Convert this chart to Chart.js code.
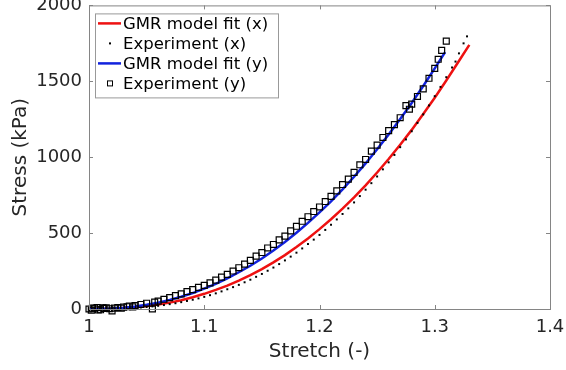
<!DOCTYPE html>
<html>
<head>
<meta charset="utf-8">
<script src="https://cdn.jsdelivr.net/npm/chart.js@4"></script>
<style>
  html, body { margin: 0; padding: 0; background: #fff; }
  #wrap { width: 566px; height: 370px; }
</style>
</head>
<body>
<div id="wrap"><canvas id="stressChart" width="566" height="370"></canvas></div>
<script>
// GMR model fit vs experiment, stretch in x and y

const xTicks = [1, 1.1, 1.2, 1.3, 1.4];
const yTicks = [0, 500, 1000, 1500, 2000];

const fitStretchX = [1.00, 1.01, 1.02, 1.03, 1.04, 1.05, 1.06, 1.07, 1.08, 1.09, 1.10, 1.11, 1.12, 1.13, 1.14, 1.15, 1.16,
    1.17, 1.18, 1.19, 1.20, 1.21, 1.22, 1.23, 1.24, 1.25, 1.26, 1.27, 1.28, 1.29, 1.30, 1.31, 1.32, 1.33];
const fitStressX = [0, 0.5, 2, 6, 11, 19, 29, 42, 58, 77, 100, 126, 154, 187, 223, 263, 307,
    355, 408, 465, 526, 591, 661, 736, 815, 899, 988, 1082, 1180, 1284, 1392, 1505, 1622, 1740];

const fitStretchY = [1.00, 1.01, 1.02, 1.03, 1.04, 1.05, 1.06, 1.07, 1.08, 1.09, 1.10, 1.11, 1.12, 1.13, 1.14, 1.15, 1.16,
    1.17, 1.18, 1.19, 1.20, 1.21, 1.22, 1.23, 1.24, 1.25, 1.26, 1.27, 1.28, 1.29, 1.30, 1.309];
const fitStressY = [0, 1, 4, 9, 17, 28, 42, 60, 81, 105, 134, 166, 202, 242, 285, 333, 385,
    442, 502, 567, 637, 709, 788, 871, 959, 1052, 1150, 1252, 1357, 1469, 1585, 1692];

const expStretchX = [1.000, 1.002, 1.003, 1.005, 1.006, 1.008, 1.010, 1.011, 1.013, 1.015, 1.016, 1.018, 1.020, 1.022,
    1.023, 1.025, 1.028, 1.030, 1.033, 1.035, 1.038,
    1.040, 1.045, 1.050, 1.055, 1.060, 1.065, 1.070, 1.075, 1.080, 1.085, 1.090, 1.095, 1.100, 1.105, 1.110, 1.115,
    1.120, 1.125, 1.130, 1.135, 1.140, 1.145, 1.150, 1.155, 1.160, 1.165, 1.170, 1.175, 1.180, 1.185, 1.190, 1.195,
    1.200, 1.205, 1.210, 1.215, 1.220, 1.225, 1.230, 1.235, 1.240, 1.245, 1.250, 1.255, 1.260, 1.265, 1.270, 1.275,
    1.280, 1.285, 1.290, 1.295, 1.300, 1.305, 1.310, 1.315, 1.318, 1.321, 1.325, 1.328];
const expStressX = [0, 8, -5, 5, -10, -3, 2, 10, -8, 4, -6, 0, 3, 9,
    -4, 2, 6, 3, 8, 5, 4,
    7, 10, 13, 17, 21, 26, 32, 38, 45, 53, 61, 70, 80, 91, 103, 116,
    130, 144, 159, 176, 193, 212, 231, 252, 273, 296, 320, 345, 371, 399, 428, 457,
    488, 521, 555, 590, 626, 663, 702, 744, 786, 829, 873, 920, 966, 1015, 1066, 1117,
    1171, 1226, 1282, 1341, 1402, 1463, 1527, 1591, 1630, 1684, 1750, 1796];

const expStretchY = [1.000, 1.002, 1.003, 1.005, 1.007, 1.008, 1.010, 1.012, 1.013, 1.015, 1.018, 1.020, 1.022,
    1.025, 1.028, 1.030, 1.033, 1.035, 1.038, 1.040, 1.045, 1.050,
    1.055, 1.057, 1.060, 1.065, 1.070, 1.075, 1.080, 1.085, 1.090, 1.095, 1.100, 1.105, 1.110, 1.115, 1.120, 1.125,
    1.130, 1.135, 1.140, 1.145, 1.150, 1.155, 1.160, 1.165, 1.170, 1.175, 1.180, 1.185, 1.190, 1.195, 1.200, 1.205,
    1.210, 1.215, 1.220, 1.225, 1.230, 1.235, 1.240, 1.245, 1.250, 1.255, 1.260, 1.265, 1.270, 1.275, 1.278, 1.280,
    1.285, 1.290, 1.295, 1.300, 1.303, 1.306, 1.310];
const expStressY = [0, -8, 6, 5, 10, -6, -5, 8, 4, 8, 2, -13, 6,
    10, 5, 12, 15, 20, 14, 22, 30, 38,
    0, 45, 52, 64, 75, 88, 100, 115, 128, 142, 156, 172, 190, 210, 228, 250,
    272, 296, 320, 348, 372, 402, 425, 455, 480, 515, 545, 578, 608, 642, 672, 708,
    742, 778, 820, 856, 900, 950, 985, 1040, 1080, 1130, 1175, 1215, 1260, 1340, 1316, 1350,
    1400, 1450, 1520, 1585, 1645, 1704, 1765];

const toPoints = (xs, ys) => xs.map((x, i) => ({ x: x, y: ys[i] }));

const FONT = "'DejaVu Sans', sans-serif";
const TEXT = '#262626';
const AXIS = '#858585';

// legend entries drawn inside the axes, top left
const legendItems = [
    { label: 'GMR model fit (x)', kind: 'line', color: '#ee1111' },
    { label: 'Experiment (x)', kind: 'dot', color: '#000000' },
    { label: 'GMR model fit (y)', kind: 'line', color: '#1122dd' },
    { label: 'Experiment (y)', kind: 'square', color: '#000000' }
];

const frameAndLegend = {
    id: 'frameAndLegend',
    afterDatasetsDraw(chart) {
        const { ctx, chartArea: a, scales } = chart;
        ctx.save();
        ctx.strokeStyle = AXIS;
        ctx.lineWidth = 1;
        ctx.strokeRect(a.left + 0.5, a.top + 0.5, a.right - a.left, a.bottom - a.top);
        ctx.beginPath();
        scales.x.ticks.forEach(t => {
            const px = Math.round(scales.x.getPixelForValue(t.value)) + 0.5;
            ctx.moveTo(px, a.bottom); ctx.lineTo(px, a.bottom - 4);
            ctx.moveTo(px, a.top); ctx.lineTo(px, a.top + 4);
        });
        scales.y.ticks.forEach(t => {
            const py = Math.round(scales.y.getPixelForValue(t.value)) + 0.5;
            ctx.moveTo(a.left, py); ctx.lineTo(a.left + 4, py);
            ctx.moveTo(a.right, py); ctx.lineTo(a.right - 4, py);
        });
        ctx.stroke();

        // legend box
        const bx = a.left + 6, by = a.top + 8, bw = 183, bh = 84;
        ctx.fillStyle = '#fff';
        ctx.fillRect(bx, by, bw, bh);
        ctx.strokeStyle = '#999';
        ctx.strokeRect(bx + 0.5, by + 0.5, bw, bh);
        ctx.font = '16.5px ' + FONT;
        ctx.textBaseline = 'middle';
        ctx.textAlign = 'left';
        legendItems.forEach((item, i) => {
            const cy = by + 10 + i * 20;
            const cx = bx + 15;
            if (item.kind === 'line') {
                ctx.strokeStyle = item.color;
                ctx.lineWidth = 2.5;
                ctx.beginPath();
                ctx.moveTo(bx + 3, cy); ctx.lineTo(bx + 26, cy);
                ctx.stroke();
            } else if (item.kind === 'dot') {
                ctx.fillStyle = item.color;
                ctx.fillRect(cx - 1, cy - 1, 2, 2);
            } else {
                ctx.strokeStyle = item.color;
                ctx.lineWidth = 1;
                ctx.strokeRect(cx - 2.5, cy - 2.5, 5, 5);
            }
            ctx.fillStyle = '#000';
            ctx.fillText(item.label, bx + 28, cy + 1);
        });
        ctx.restore();
    }
};

new Chart(document.getElementById('stressChart'), {
    type: 'scatter',
    data: {
        datasets: [
            {
                label: 'Experiment (y)',
                data: toPoints(expStretchY, expStressY),
                pointStyle: 'rect',
                pointRadius: 4.2,
                pointBackgroundColor: 'rgba(255,255,255,0)',
                pointBorderColor: '#000',
                pointBorderWidth: 1.2,
                clip: false
            },
            {
                label: 'GMR model fit (y)',
                data: toPoints(fitStretchY, fitStressY),
                showLine: true,
                borderColor: '#1122dd',
                borderWidth: 2.5,
                pointRadius: 0,
                tension: 0
            },
            {
                label: 'Experiment (x)',
                data: toPoints(expStretchX, expStressX),
                pointStyle: 'rect',
                pointRadius: 1.4,
                pointBackgroundColor: '#000',
                pointBorderWidth: 0,
                clip: false
            },
            {
                label: 'GMR model fit (x)',
                data: toPoints(fitStretchX, fitStressX),
                showLine: true,
                borderColor: '#ee1111',
                borderWidth: 2.5,
                pointRadius: 0,
                tension: 0
            }
        ]
    },
    options: {
        responsive: false,
        animation: false,
        devicePixelRatio: 1,
        layout: { padding: { left: 0, right: 16, top: 5, bottom: 0 } },
        plugins: {
            legend: { display: false },
            tooltip: { enabled: false }
        },
        scales: {
            x: {
                type: 'linear',
                min: 1,
                max: 1.4,
                afterBuildTicks: s => { s.ticks = xTicks.map(v => ({ value: v })); },
                afterFit: s => { s.height = 61; s.paddingLeft = 0; s.paddingRight = 0; },
                grid: { display: false, drawTicks: false },
                border: { display: false },
                ticks: {
                    color: TEXT,
                    font: { family: FONT, size: 18 },
                    padding: 8,
                    maxRotation: 0,
                    callback: v => String(Number(v.toFixed(1)))
                },
                title: {
                    display: true,
                    text: 'Stretch (-)',
                    color: TEXT,
                    font: { family: FONT, size: 20 },
                    padding: { top: 0, bottom: 6 }
                }
            },
            y: {
                type: 'linear',
                min: 0,
                max: 2000,
                afterBuildTicks: s => { s.ticks = yTicks.map(v => ({ value: v })); },
                afterFit: s => { s.width = 89; s.paddingTop = 0; s.paddingBottom = 0; },
                grid: { display: false, drawTicks: false },
                border: { display: false },
                ticks: {
                    color: TEXT,
                    font: { family: FONT, size: 18 },
                    padding: 7,
                    callback: v => String(v)
                },
                title: {
                    display: true,
                    text: 'Stress (kPa)',
                    color: TEXT,
                    font: { family: FONT, size: 20 },
                    padding: { top: 9, bottom: 0 }
                }
            }
        }
    },
    plugins: [frameAndLegend]
});
</script>
</body>
</html>
